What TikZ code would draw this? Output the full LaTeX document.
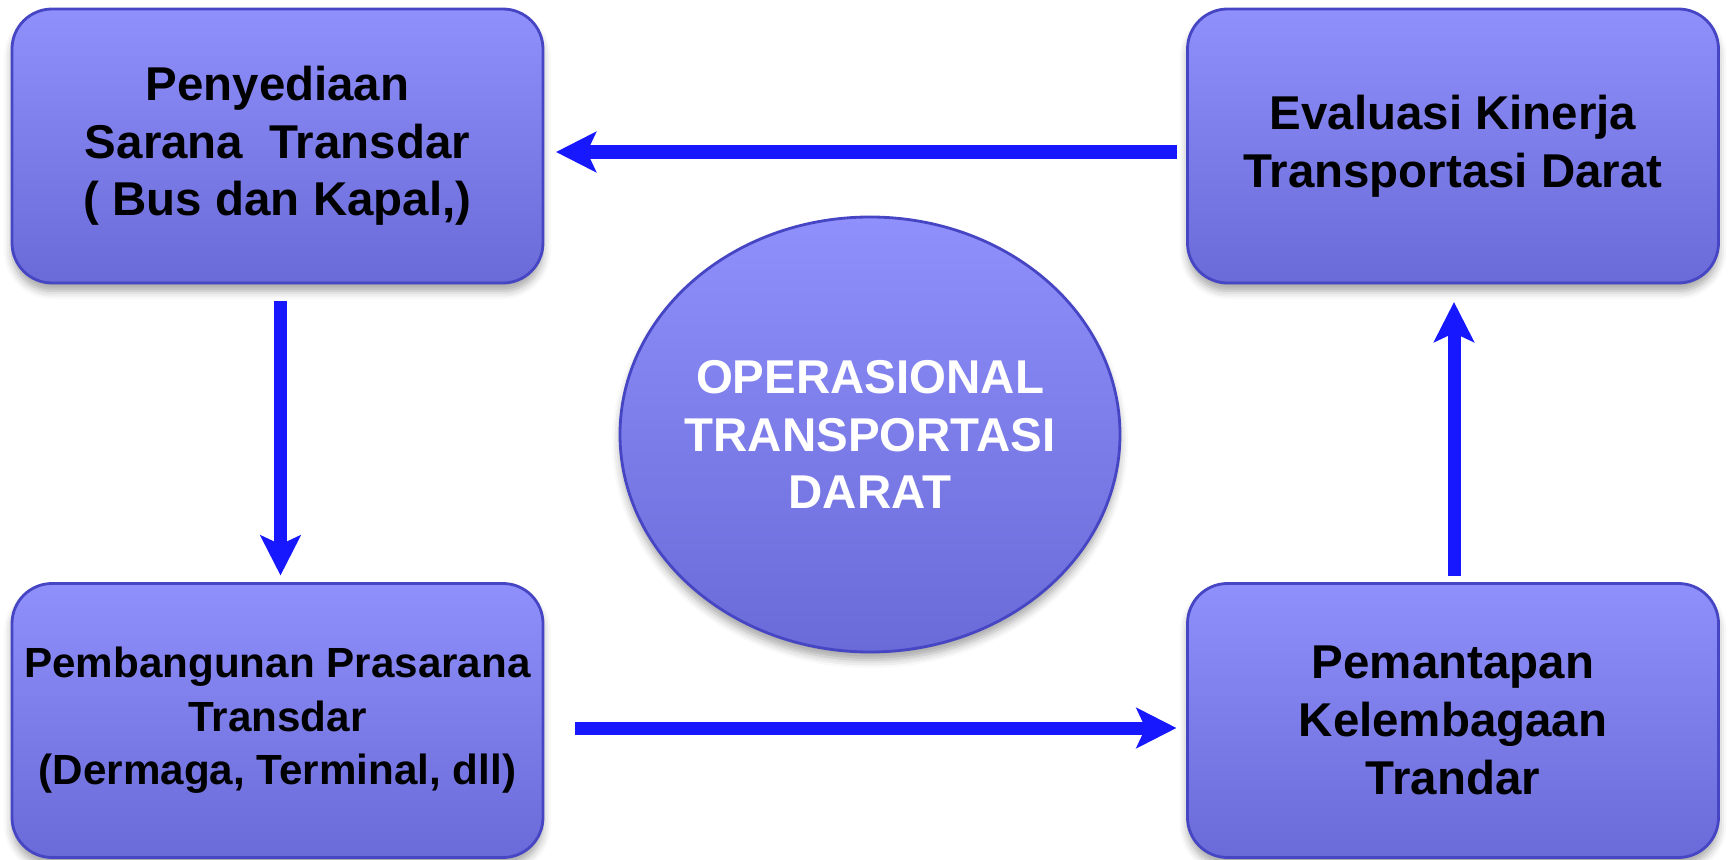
\documentclass[tikz,border=0pt]{standalone}
\usepackage{fontspec}
\setmainfont{Liberation Sans}
\usetikzlibrary{arrows.meta, positioning, shapes.geometric, shadows.blur}
\usepackage{xcolor}
\definecolor{box-top}{RGB}{144,144,252}
\definecolor{box-bot}{RGB}{106,106,216}
\definecolor{box-line}{RGB}{70,70,196}
\definecolor{arr-blue}{RGB}{24,24,255}

\begin{document}
\begin{tikzpicture}[
  >=Stealth,
  box/.style={draw=box-line, line width=0.8pt, rounded corners=0.4cm,
              top color=box-top, bottom color=box-bot, outer sep=0pt,
              minimum width=5.31cm, minimum height=2.74cm, align=center,
              font=\fontsize{13.5}{16.4}\selectfont\bfseries,
              blur shadow={shadow xshift=0pt, shadow yshift=-0.08cm,
                           shadow blur radius=0.08cm, shadow opacity=35}},
  hub/.style={box, ellipse, rounded corners=0pt, text=white,
              minimum width=5.0cm, minimum height=4.35cm,
              inner xsep=-0.2cm, inner ysep=0pt},
  arrow/.style={-{Stealth[length=4mm, width=4mm, inset=0.9mm]},
                draw=arr-blue, line width=3.7pt},
]
\useasboundingbox (0,0) rectangle (17.28,-8.6);

\node[box] (tl) at (2.775,-1.46)  {Penyediaan\\Sarana\ \ Transdar\\( Bus dan Kapal,)};
\node[box] (tr) at (14.53,-1.46)  {Evaluasi Kinerja\\Transportasi Darat};
\node[box, font=\fontsize{12}{15.2}\selectfont\bfseries]
           (bl) at (2.775,-7.205) {Pembangunan Prasarana\\Transdar\\(Dermaga, Terminal, dll)};
\node[box] (br) at (14.53,-7.205) {Pemantapan\\Kelembagaan\\Trandar};
\node[hub] (op) at (8.70,-4.345)  {OPERASIONAL\\TRANSPORTASI\\DARAT};

% cycle round the centre
\draw[arrow, shorten <=0.11cm, shorten >=0.13cm]
  ([yshift=-0.06cm]tr.west) -- ([yshift=-0.06cm]tl.east);
\draw[arrow, shorten <=0.18cm, shorten >=0.08cm]
  ([xshift=0.03cm]tl.south) -- ([xshift=0.03cm]bl.north);
\draw[arrow, shorten <=0.32cm, shorten >=0.11cm]
  ([yshift=-0.075cm]bl.east) -- ([yshift=-0.075cm]br.west);
\draw[arrow, shorten <=0.08cm, shorten >=0.19cm]
  ([xshift=0.01cm]br.north) -- ([xshift=0.01cm]tr.south);
\end{tikzpicture}
\end{document}
